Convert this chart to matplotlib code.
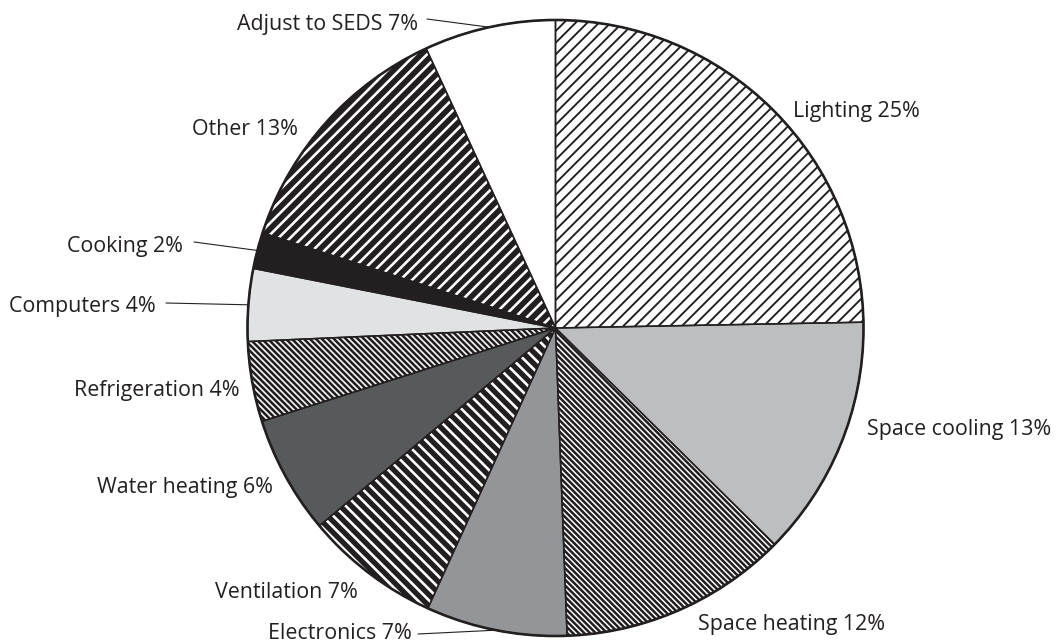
import matplotlib
matplotlib.use("Agg")
import matplotlib.pyplot as plt
import numpy as np
from matplotlib.patches import Circle
from matplotlib.collections import LineCollection

# ---- data ----
categories = ["Lighting", "Space cooling", "Space heating", "Electronics",
              "Ventilation", "Water heating", "Refrigeration", "Computers",
              "Cooking", "Other", "Adjust to SEDS"]
shares = [24.7, 12.7, 12.0, 7.4, 7.1, 6.2, 4.2, 3.8, 1.9, 13.1, 6.9]

# ---- styles ----
faces = ["white", "#bcbec0", "white", "#939598", "#231f20", "#58595b",
         "white", "#e1e2e3", "#231f20", "#231f20", "white"]
# hatch: (direction, horizontal spacing px, line width px, colour)
hatch_styles = [("/", 11.7, 1.9, "#231f20"), None, ("\\", 5.7, 2.5, "#231f20"),
                None, ("\\", 11.2, 2.6, "white"), None,
                ("\\", 6.0, 2.6, "#231f20"), None, None,
                ("/", 11.7, 2.6, "white"), None]

W, H, DPI = 1056, 643, 70
CX, CY, R = 555.5, H - 328, 308
INK = "#231f20"
PX = 72 / DPI  # points per pixel

# label layout: (x_px, baseline_px_from_top, ha, leader_start or None)
layout = [
    (793, 117, "left", None),
    (867, 435, "left", None),
    (698, 630, "left", None),
    (412, 639, "right", (418, 634)),
    (215, 598, "left", None),
    (273, 493, "right", None),
    (240, 396, "right", None),
    (156, 312, "right", (166, 303)),
    (183, 252, "right", (194, 242)),
    (298, 135, "right", None),
    (418, 30, "right", (427, 19)),
]

fig = plt.figure(figsize=(W / DPI, H / DPI), dpi=DPI)
ax = fig.add_axes([0, 0, 1, 1])

wedges, _ = ax.pie(shares, startangle=90, counterclock=False, center=(CX, CY),
                   radius=R, colors=faces, wedgeprops=dict(linewidth=0))

for w, hs in zip(wedges, hatch_styles):
    if hs is None:
        continue
    d, sx, lw, col = hs
    offs = np.arange(-H - 20, W + 20, sx)
    if d == "/":
        segs = [[(c, -10), (c + H + 20, H + 10)] for c in offs]
    else:
        segs = [[(c, H + 10), (c + H + 20, -10)] for c in offs]
    lc = LineCollection(segs, colors=col, linewidths=lw * PX, zorder=w.get_zorder() + 0.1)
    ax.add_collection(lc)
    lc.set_clip_path(w)

# outline layer
ax.pie(shares, startangle=90, counterclock=False, center=(CX, CY),
       radius=R, colors=["none"] * len(shares),
       wedgeprops=dict(linewidth=1.5 * PX, edgecolor=INK, fill=False, zorder=4))
ax.add_patch(Circle((CX, CY), R, fill=False, lw=2.6 * PX, edgecolor=INK, zorder=5))

fs = 21.4 * PX
for w, cat, val, (tx, ty, ha, lead) in zip(wedges, categories, shares, layout):
    label = f"{cat} {int(round(val))}%"
    ax.text(tx, H - ty, label, ha=ha, va="baseline", fontsize=fs,
            family=["Open Sans", "DejaVu Sans"], color=INK)
    if lead is not None:
        mid = np.deg2rad((w.theta1 + w.theta2) / 2)
        ex, ey = CX + R * np.cos(mid), CY + R * np.sin(mid)
        ax.annotate("", xy=(ex, ey), xytext=(lead[0], H - lead[1]),
                    arrowprops=dict(arrowstyle="-", color=INK, lw=1.1 * PX,
                                    shrinkA=0, shrinkB=0))

ax.set_xlim(0, W)
ax.set_ylim(0, H)
ax.set_aspect("auto")
ax.axis("off")
fig.savefig("out.png", dpi=DPI, facecolor="white")
